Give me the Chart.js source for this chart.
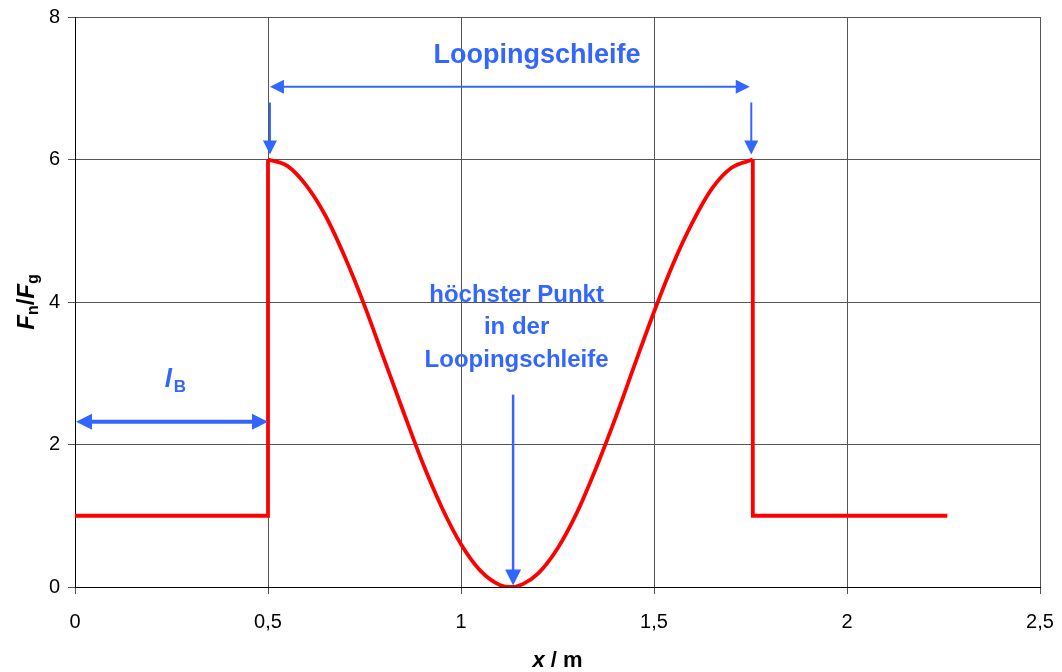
<!DOCTYPE html>
<html>
<head>
<meta charset="utf-8">
<script src="https://cdn.jsdelivr.net/npm/chart.js@4.4.0/dist/chart.umd.min.js"></script>
<style>
  body { margin: 0; background: #fff; }
  #wrap { width: 1062px; height: 672px; }
</style>
</head>
<body>
<div id="wrap"><canvas id="chart" width="1062" height="672"></canvas></div>
<script>
// data (x in m, Fn/Fg)
const stepLeftX = [0, 0.5, 0.5];
const stepLeftY = [1, 1, 6];

const loopX = [0.5, 0.55, 0.6, 0.65, 0.7, 0.75, 0.8, 0.85, 0.9, 0.95, 1.0, 1.05, 1.1, 1.13,
               1.16, 1.2, 1.25, 1.3, 1.35, 1.4, 1.45, 1.5, 1.55, 1.6, 1.65, 1.7, 1.756];
const loopY = [6, 5.91, 5.63, 5.2, 4.62, 3.95, 3.21, 2.47, 1.75, 1.12, 0.6, 0.23, 0.03, 0,
               0.04, 0.19, 0.54, 1.04, 1.67, 2.37, 3.12, 3.86, 4.54, 5.12, 5.59, 5.88, 6];

const stepRightX = [1.756, 1.756, 2.26];
const stepRightY = [6, 1, 1];

const xTicks = [0, 0.5, 1, 1.5, 2, 2.5];
const yTicks = [0, 2, 4, 6, 8];

const blue = '#3366ff';
const red = '#ff0000';
const FONT = '"Liberation Sans", Arial, sans-serif';

function pts(xs, ys) {
  return xs.map((x, i) => ({ x: x, y: ys[i] }));
}
function comma(v) {
  return String(v).replace('.', ',');
}

// ---- helpers for the annotations ----
function arrowHead(ctx, x, y, dir, len, half) {
  ctx.beginPath();
  if (dir === 'left') { ctx.moveTo(x, y); ctx.lineTo(x + len, y - half); ctx.lineTo(x + len, y + half); }
  if (dir === 'right') { ctx.moveTo(x, y); ctx.lineTo(x - len, y - half); ctx.lineTo(x - len, y + half); }
  if (dir === 'down') { ctx.moveTo(x, y); ctx.lineTo(x - half, y - len); ctx.lineTo(x + half, y - len); }
  ctx.closePath();
  ctx.fill();
}

// runs: [text, font, dy]
function drawRuns(ctx, runs, cx, y) {
  let w = 0;
  runs.forEach(r => { ctx.font = r[1]; w += ctx.measureText(r[0]).width; });
  let x = cx - w / 2;
  runs.forEach(r => {
    ctx.font = r[1];
    ctx.fillText(r[0], x, y + (r[2] || 0));
    x += ctx.measureText(r[0]).width;
  });
}

const notes = {
  id: 'notes',
  afterDatasetsDraw(chart) {
    const ctx = chart.ctx;
    const xs = chart.scales.x, ys = chart.scales.y;
    ctx.save();
    ctx.fillStyle = blue;
    ctx.strokeStyle = blue;
    ctx.textAlign = 'left';
    ctx.textBaseline = 'alphabetic';

    // Loopingschleife double arrow
    const a = xs.getPixelForValue(0.505), b = xs.getPixelForValue(1.748);
    const yy = ys.getPixelForValue(7.02);
    ctx.lineWidth = 2;
    ctx.beginPath(); ctx.moveTo(a + 8, yy); ctx.lineTo(b - 8, yy); ctx.stroke();
    arrowHead(ctx, a, yy, 'left', 14, 7);
    arrowHead(ctx, b, yy, 'right', 14, 7);
    ctx.font = 'bold 27px ' + FONT;
    ctx.textAlign = 'center';
    ctx.fillText('Loopingschleife', xs.getPixelForValue(1.197), 63);

    // small down arrows at both ends
    [0.505, 1.752].forEach(v => {
      const px = xs.getPixelForValue(v);
      ctx.lineWidth = 2;
      ctx.beginPath(); ctx.moveTo(px, ys.getPixelForValue(6.8)); ctx.lineTo(px, ys.getPixelForValue(6.2)); ctx.stroke();
      arrowHead(ctx, px, ys.getPixelForValue(6.07), 'down', 14, 7);
    });

    // lowest / highest point note
    ctx.font = 'bold 24px ' + FONT;
    const cx = xs.getPixelForValue(1.144);
    ctx.fillText('höchster Punkt', cx, 302);
    ctx.fillText('in der', cx, 334);
    ctx.fillText('Loopingschleife', cx, 367);
    const mx = xs.getPixelForValue(1.135);
    ctx.lineWidth = 2.5;
    ctx.beginPath(); ctx.moveTo(mx, ys.getPixelForValue(2.7)); ctx.lineTo(mx, ys.getPixelForValue(0.2)); ctx.stroke();
    arrowHead(ctx, mx, ys.getPixelForValue(0.02), 'down', 16, 8);

    // l_B
    const l0 = xs.getPixelForValue(0), l1 = xs.getPixelForValue(0.5);
    const ly = ys.getPixelForValue(2.32);
    ctx.lineWidth = 4;
    ctx.beginPath(); ctx.moveTo(l0 + 10, ly); ctx.lineTo(l1 - 10, ly); ctx.stroke();
    arrowHead(ctx, l0 + 1, ly, 'left', 16, 8);
    arrowHead(ctx, l1, ly, 'right', 16, 8);
    ctx.textAlign = 'left';
    drawRuns(ctx, [
      ['l', 'italic bold 26px ' + FONT, 0],
      [' ', 'bold 6px ' + FONT, 0],
      ['B', 'bold 17px ' + FONT, 5]
    ], xs.getPixelForValue(0.26), 387);

    // axis titles
    ctx.fillStyle = '#000';
    drawRuns(ctx, [
      ['x', 'italic bold 22px ' + FONT, 0],
      [' / m', 'bold 22px ' + FONT, 0]
    ], (chart.chartArea.left + chart.chartArea.right) / 2, 667);

    ctx.translate(34, (chart.chartArea.top + chart.chartArea.bottom) / 2);
    ctx.rotate(-Math.PI / 2);
    drawRuns(ctx, [
      ['F', 'italic bold 24px ' + FONT, 0],
      ['n', 'bold 16px ' + FONT, 4],
      ['/', 'bold 24px ' + FONT, 0],
      ['F', 'italic bold 24px ' + FONT, 0],
      ['g', 'bold 16px ' + FONT, 4]
    ], 0, 0);
    ctx.restore();
  }
};

const lineStyle = {
  showLine: true,
  borderColor: red,
  backgroundColor: red,
  borderWidth: 3.8,
  pointRadius: 0,
  fill: false
};

new Chart(document.getElementById('chart'), {
  type: 'scatter',
  data: {
    datasets: [
      Object.assign({ data: pts(stepLeftX, stepLeftY), tension: 0 }, lineStyle),
      Object.assign({ data: pts(loopX, loopY), cubicInterpolationMode: 'monotone' }, lineStyle),
      Object.assign({ data: pts(stepRightX, stepRightY), tension: 0 }, lineStyle)
    ]
  },
  options: {
    responsive: false,
    animation: false,
    layout: { padding: { top: 17, right: 22, left: 0, bottom: 0 } },
    plugins: { legend: { display: false }, tooltip: { enabled: false } },
    scales: {
      x: {
        type: 'linear',
        min: 0,
        max: 2.5,
        afterBuildTicks(s) { s.ticks = xTicks.map(v => ({ value: v })); },
        afterFit(s) { s.height = 85; s.paddingLeft = 0; s.paddingRight = 0; },
        border: { color: '#000', width: 1 },
        grid: { color: '#555', lineWidth: 1, tickLength: 7, drawTicks: true },
        ticks: {
          color: '#000',
          padding: 16,
          maxRotation: 0,
          font: { family: FONT, size: 20 },
          callback: v => comma(v)
        }
      },
      y: {
        min: 0,
        max: 8,
        afterBuildTicks(s) { s.ticks = yTicks.map(v => ({ value: v })); },
        afterFit(s) { s.width = 75; s.paddingTop = 0; s.paddingBottom = 0; },
        border: { color: '#000', width: 1 },
        grid: { color: '#555', lineWidth: 1, tickLength: 7, drawTicks: true },
        ticks: {
          color: '#000',
          padding: 8,
          font: { family: FONT, size: 20 },
          callback: v => comma(v)
        }
      }
    }
  },
  plugins: [notes]
});
</script>
</body>
</html>
